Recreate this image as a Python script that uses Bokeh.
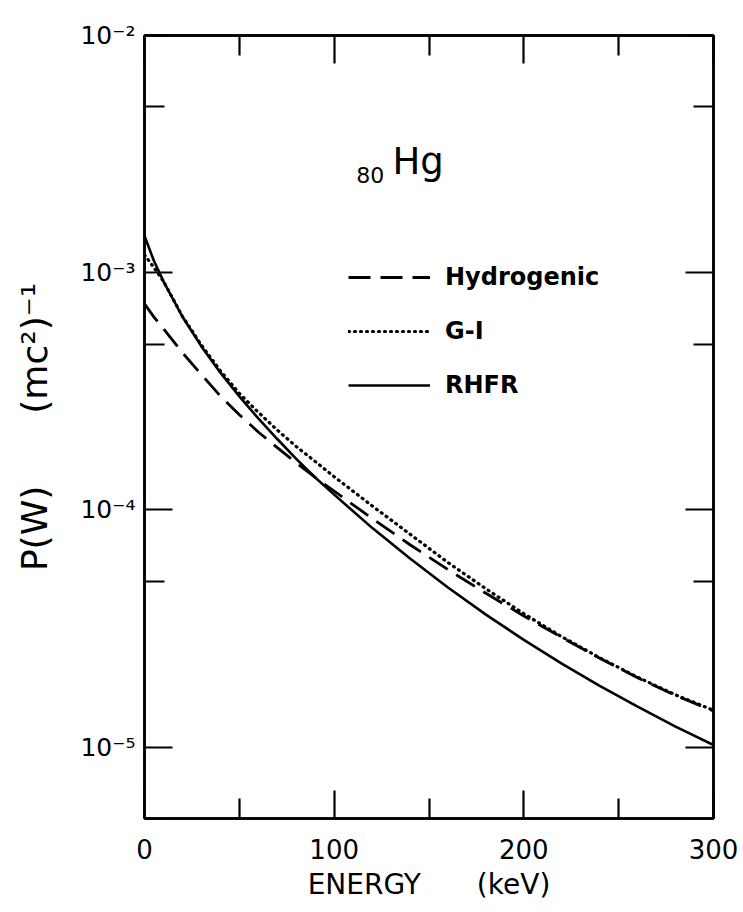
import math
from bokeh.plotting import figure
from bokeh.models import (Range1d, FixedTicker, LogAxis, LinearAxis, Label,
                          Legend, LegendItem, CustomJSTickFormatter)
from bokeh.embed import file_html
from bokeh.resources import INLINE

# ---- data ----
energy_kev = [0, 5, 10, 20, 30, 40, 50, 60, 70, 80, 90, 100,
              120, 140, 160, 180, 200, 220, 240, 260, 280, 300]
hydrogenic = [7.4e-4, 6.5e-4, 5.8e-4, 4.6e-4, 3.72e-4, 3.02e-4, 2.52e-4, 2.13e-4,
              1.83e-4, 1.58e-4, 1.37e-4, 1.2e-4, 9.2e-5, 7.13e-5, 5.6e-5, 4.45e-5,
              3.57e-5, 2.9e-5, 2.37e-5, 1.96e-5, 1.65e-5, 1.42e-5]
g_i = [1.19e-3, 1.05e-3, 9.2e-4, 6.55e-4, 4.95e-4, 3.86e-4, 3.1e-4, 2.58e-4,
       2.17e-4, 1.85e-4, 1.6e-4, 1.38e-4, 1.04e-4, 7.9e-5, 6.0e-5, 4.65e-5,
       3.65e-5, 2.92e-5, 2.38e-5, 1.97e-5, 1.66e-5, 1.43e-5]
rhfr = [1.43e-3, 1.12e-3, 9.2e-4, 6.52e-4, 4.89e-4, 3.79e-4, 3.01e-4, 2.43e-4,
        1.99e-4, 1.64e-4, 1.37e-4, 1.16e-4, 8.4e-5, 6.24e-5, 4.71e-5, 3.62e-5,
        2.83e-5, 2.25e-5, 1.81e-5, 1.48e-5, 1.22e-5, 1.02e-5]
series_names = ["Hydrogenic", "G-I", "RHFR"]

x_ticks = [0, 100, 200, 300]
x_minor_ticks = [50, 150, 250]
y_ticks = [1e-5, 1e-4, 1e-3, 1e-2]
y_minor_ticks = [5e-6, 5e-5, 5e-4, 5e-3]
y_tick_labels = ["10\u207b\u2075", "10\u207b\u2074", "10\u207b\u00b3", "10\u207b\u00b2"]

FONT = "DejaVu Sans"

p = figure(width=738, height=908,
           x_range=Range1d(0, 300), y_range=Range1d(5e-6, 1e-2),
           y_axis_type="log", output_backend="svg", toolbar_location=None,
           min_border_left=144, min_border_right=25,
           min_border_top=35, min_border_bottom=90)
p.grid.visible = False
p.background_fill_color = "white"
p.border_fill_color = "white"
p.outline_line_color = "black"
p.outline_line_width = 2.5


def style_axis(ax, ticker):
    ax.ticker = ticker
    ax.axis_line_color = "black"
    ax.axis_line_width = 2.5
    ax.major_tick_in = 28
    ax.major_tick_out = 0
    ax.minor_tick_in = 20
    ax.minor_tick_out = 0
    ax.major_tick_line_width = 2.2
    ax.minor_tick_line_width = 2.2
    ax.major_tick_line_color = "black"
    ax.minor_tick_line_color = "black"


xt = FixedTicker(ticks=x_ticks, minor_ticks=x_minor_ticks)
yt = FixedTicker(ticks=y_ticks, minor_ticks=y_minor_ticks)

xb = p.xaxis[0]
style_axis(xb, xt)
xb.major_label_text_font = FONT
xb.major_label_text_font_size = "26px"
xb.major_label_text_color = "black"
xb.major_label_standoff = 20
xb.axis_label = "ENERGY\u2003\u2003(keV)"
xb.axis_label_text_font = FONT
xb.axis_label_text_font_size = "28px"
xb.axis_label_text_font_style = "normal"
xb.axis_label_text_color = "black"
xb.axis_label_standoff = 6

yl = p.yaxis[0]
style_axis(yl, yt)
yl.formatter = CustomJSTickFormatter(
    args=dict(tvals=y_ticks, tlabels=y_tick_labels),
    code="""
let best = 0, bd = Infinity;
for (let i = 0; i < tvals.length; i++) {
  const d = Math.abs(Math.log10(tvals[i]) - Math.log10(tick));
  if (d < bd) { bd = d; best = i; }
}
return tlabels[best];
""")
yl.major_label_text_font = FONT
yl.major_label_text_font_size = "25px"
yl.major_label_text_color = "black"
yl.major_label_standoff = 9
yl.axis_label = "P(W)\u2003\u2003(mc\u00b2)\u207b\u00b9"
yl.axis_label_text_font = FONT
yl.axis_label_text_font_size = "36px"
yl.axis_label_text_font_style = "normal"
yl.axis_label_text_color = "black"
yl.axis_label_standoff = 22

yr = LogAxis()
style_axis(yr, yt)
yr.formatter = CustomJSTickFormatter(code="return '';")
yr.major_label_text_color = None
p.add_layout(yr, "right")

xa = LinearAxis()
style_axis(xa, xt)
xa.formatter = CustomJSTickFormatter(code="return '';")
xa.major_label_text_color = None
p.add_layout(xa, "above")

# ---- curves ----
r_h = p.line(energy_kev, hydrogenic, line_color="black", line_width=2.8,
             line_dash="22 10")
r_g = p.line(energy_kev, g_i, line_color="black", line_width=3.2,
             line_dash="1 5", line_cap="round")
r_r = p.line(energy_kev, rhfr, line_color="black", line_width=2.6)

legend = Legend(items=[LegendItem(label=series_names[0], renderers=[r_h]),
                       LegendItem(label=series_names[1], renderers=[r_g]),
                       LegendItem(label=series_names[2], renderers=[r_r])],
                location=(204, 418), glyph_width=82, glyph_height=30,
                spacing=24, label_standoff=15, padding=0, margin=0,
                border_line_color=None, background_fill_color=None,
                background_fill_alpha=0,
                label_text_font=FONT, label_text_font_size="24px",
                label_text_font_style="bold", label_text_color="black")
p.add_layout(legend)

# ---- element label ----
p.add_layout(Label(x=111.6, y=2.57e-3, text="80", text_align="left",
                   text_baseline="middle", text_font=FONT,
                   text_font_size="22px", text_color="black"))
p.add_layout(Label(x=130.7, y=2.93e-3, text="Hg", text_align="left",
                   text_baseline="middle", text_font=FONT,
                   text_font_size="37px", text_color="black"))

open("out.html", "w").write(file_html(p, INLINE))
